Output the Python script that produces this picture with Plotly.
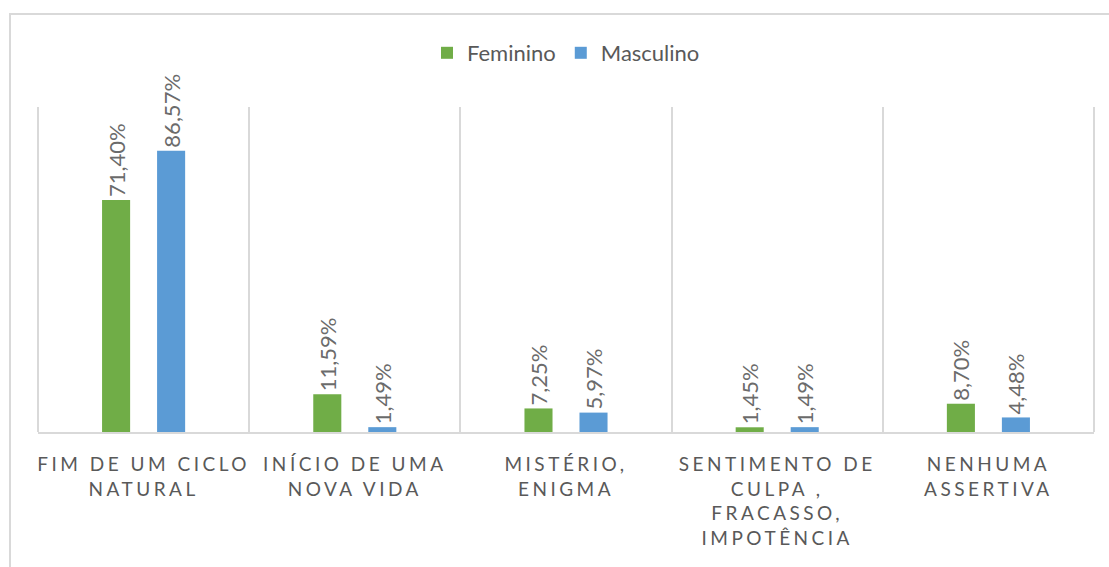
import plotly.graph_objects as go

categories = [
    "FIM DE UM CICLO<br>NATURAL",
    "INÍCIO DE UMA<br>NOVA VIDA",
    "MISTÉRIO,<br>ENIGMA",
    "SENTIMENTO DE<br>CULPA ,<br>FRACASSO,<br>IMPOTÊNCIA",
    "NENHUMA<br>ASSERTIVA",
]
feminino = [71.40, 11.59, 7.25, 1.45, 8.70]
masculino = [86.57, 1.49, 5.97, 1.49, 4.48]

GREEN = "#70AD47"
BLUE = "#5B9BD5"
TXT = "#595959"
GRID = "#D9D9D9"
FONT = "Lato"

def fmt(v):
    return f"{v:.2f}%".replace(".", ",")

W, H = 1109, 567
L, R, T, B = 38, 15, 107, 135
pw = W - L - R
ph = H - T - B

fig = go.Figure()
for name, vals, col in [("Feminino", feminino, GREEN), ("Masculino", masculino, BLUE)]:
    fig.add_trace(go.Bar(
        name=name, x=categories, y=vals, marker=dict(color=col, line=dict(width=0)),
        text=[fmt(v) for v in vals], textposition="outside", textangle=-90,
        textfont=dict(family=FONT, size=22, color="#6b6b6b"),
        constraintext="none", cliponaxis=False,
    ))

fig.update_layout(
    width=W, height=H,
    margin=dict(l=L, r=R, t=T, b=B, autoexpand=False),
    paper_bgcolor="white", plot_bgcolor="white",
    barmode="group", bargap=0.479, bargroupgap=0.49,
    font=dict(family=FONT, color=TXT),
    legend=dict(orientation="h", x=0.5, xanchor="center",
                y=(ph - (53 - T)) / ph, yanchor="middle",
                font=dict(family=FONT, size=22, color=TXT),
                itemwidth=30, traceorder="normal"),
    xaxis=dict(showgrid=True, gridcolor=GRID, gridwidth=2, tickson="boundaries",
               showline=True, linecolor=GRID, linewidth=2, ticks="",
               tickfont=dict(family=FONT, size=19, color=TXT),
               ticklabelstandoff=14, tickangle=0, automargin=False),
    yaxis=dict(visible=False, range=[0, 100], showgrid=False, zeroline=False),
    shapes=[
        dict(type="rect", xref="paper", yref="paper",
             x0=(10 - L) / pw, x1=(W + 20 - L) / pw,
             y0=-(H + 20 - (T + ph)) / ph, y1=(T + ph - 14) / ph,
             line=dict(color=GRID, width=2), fillcolor="rgba(0,0,0,0)", layer="below"),
        dict(type="line", xref="paper", yref="paper", x0=0, x1=0, y0=0, y1=1,
             line=dict(color=GRID, width=2), layer="below"),
        dict(type="line", xref="paper", yref="paper", x0=1, x1=1, y0=0, y1=1,
             line=dict(color=GRID, width=2), layer="below"),
    ],
)

post = """
document.body.style.margin='0';
document.querySelectorAll('.xtick text').forEach(function(t){
  t.style.letterSpacing='3.5px';
});
"""
fig.write_html("out.html", post_script=post, config={"displayModeBar": False})
